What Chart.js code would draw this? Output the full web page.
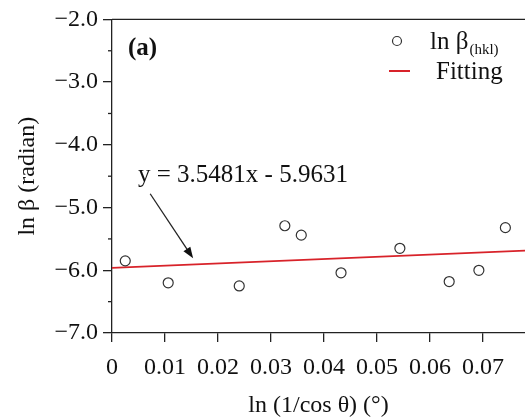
<!DOCTYPE html>
<html>
<head>
<meta charset="utf-8">
<script src="https://cdn.jsdelivr.net/npm/chart.js@4"></script>
<style>
  html, body { margin: 0; padding: 0; background: #fff; }
  #wrap { width: 525px; height: 419px; }
</style>
</head>
<body>
<div id="wrap"><canvas id="chart" width="525" height="419"></canvas></div>
<script>
// data
var xVals = [0.0025, 0.0106, 0.0240, 0.0326, 0.0357, 0.0432, 0.0543, 0.0636, 0.0692, 0.0742];
var yVals = [-5.85, -6.20, -6.25, -5.29, -5.44, -6.04, -5.65, -6.18, -6.00, -5.32];
var fitX = [0, 0.0779];
var fitY = [-5.963, -5.687];
var xTicks = [0, 0.01, 0.02, 0.03, 0.04, 0.05, 0.06, 0.07];
var yTicks = [-7.0, -6.0, -5.0, -4.0, -3.0, -2.0];
var yMinorTicks = [-6.5, -5.5, -4.5, -3.5, -2.5];
var eqText = 'y = 3.5481x - 5.9631';
var eqPos = [0.0049, -4.48];
var arrowFrom = [0.0072, -4.78];
var arrowTo = [0.0153, -5.81];

var serif = '"Liberation Serif", "Times New Roman", serif';

var points = xVals.map(function(x, i) { return { x: x, y: yVals[i] }; });
var fitPts = fitX.map(function(x, i) { return { x: x, y: fitY[i] }; });

// extra drawing: frame top, minor ticks, equation, arrow, legend, panel label
var extras = {
    id: 'extras',
    afterDraw: function(chart) {
        var ctx = chart.ctx;
        var a = chart.chartArea;
        var xs = chart.scales.x, ys = chart.scales.y;
        ctx.save();
        ctx.strokeStyle = '#222';
        ctx.lineWidth = 1.3;
        ctx.beginPath();
        ctx.moveTo(a.left, a.top);
        ctx.lineTo(a.right, a.top);
        ctx.stroke();

        // minor ticks on y
        yMinorTicks.forEach(function(v) {
            var py = ys.getPixelForValue(v);
            ctx.beginPath();
            ctx.moveTo(a.left - 4, py);
            ctx.lineTo(a.left, py);
            ctx.stroke();
        });

        // equation
        ctx.fillStyle = '#111';
        ctx.font = '25px ' + serif;
        ctx.textBaseline = 'middle';
        ctx.textAlign = 'left';
        ctx.fillText(eqText, xs.getPixelForValue(eqPos[0]), ys.getPixelForValue(eqPos[1]));

        // arrow
        var x1 = xs.getPixelForValue(arrowFrom[0]), y1 = ys.getPixelForValue(arrowFrom[1]);
        var x2 = xs.getPixelForValue(arrowTo[0]), y2 = ys.getPixelForValue(arrowTo[1]);
        var ang = Math.atan2(y2 - y1, x2 - x1);
        ctx.lineWidth = 1.3;
        ctx.beginPath();
        ctx.moveTo(x1, y1);
        ctx.lineTo(x2 - 6 * Math.cos(ang), y2 - 6 * Math.sin(ang));
        ctx.stroke();
        ctx.beginPath();
        ctx.moveTo(x2, y2);
        ctx.lineTo(x2 - 12 * Math.cos(ang - 0.35), y2 - 12 * Math.sin(ang - 0.35));
        ctx.lineTo(x2 - 12 * Math.cos(ang + 0.35), y2 - 12 * Math.sin(ang + 0.35));
        ctx.closePath();
        ctx.fill();

        // panel label
        ctx.font = 'bold 25px ' + serif;
        ctx.fillText('(a)', 128, 49);

        // legend
        ctx.strokeStyle = '#333';
        ctx.lineWidth = 1.2;
        ctx.beginPath();
        ctx.arc(397, 41, 4.5, 0, Math.PI * 2);
        ctx.stroke();
        ctx.font = '25px ' + serif;
        ctx.fillText('ln \u03b2', 430, 42);
        var w = ctx.measureText('ln \u03b2').width;
        ctx.font = '15px ' + serif;
        ctx.fillText('(hkl)', 430 + w + 1, 50);
        ctx.strokeStyle = '#d8232a';
        ctx.lineWidth = 2;
        ctx.beginPath();
        ctx.moveTo(389, 71);
        ctx.lineTo(410, 71);
        ctx.stroke();
        ctx.font = '25px ' + serif;
        ctx.fillText('Fitting', 436, 72);
        ctx.restore();
    }
};

var ctx = document.getElementById('chart').getContext('2d');
var chart = new Chart(ctx, {
    type: 'scatter',
    data: {
        datasets: [{
            label: 'ln \u03b2(hkl)',
            data: points,
            pointStyle: 'circle',
            pointRadius: 5,
            pointBorderWidth: 1.2,
            pointBorderColor: '#333',
            pointBackgroundColor: 'rgba(255,255,255,0)',
            showLine: false
        }, {
            label: 'Fitting',
            data: fitPts,
            showLine: true,
            borderColor: '#d8232a',
            borderWidth: 1.8,
            pointRadius: 0
        }]
    },
    options: {
        responsive: false,
        animation: false,
        layout: { autoPadding: false, padding: { top: 15, right: 0, left: 0, bottom: 0 } },
        plugins: { legend: { display: false }, tooltip: { enabled: false } },
        scales: {
            x: {
                type: 'linear',
                min: 0,
                max: 0.0779,
                afterBuildTicks: function(s) { s.ticks = xTicks.map(function(v) { return { value: v }; }); },
                afterFit: function(s) { s.height = 86; s.paddingLeft = 0; s.paddingRight = 0; },
                border: { display: true, color: '#222', width: 1.3 },
                grid: { drawOnChartArea: false, drawTicks: true, tickLength: 9, color: '#222', lineWidth: 1.3 },
                ticks: {
                    color: '#111',
                    padding: 11,
                    maxRotation: 0,
                    font: { family: serif, size: 24 },
                    callback: function(v) { return v === 0 ? '0' : v.toFixed(2); }
                },
                title: {
                    display: true,
                    text: 'ln (1/cos \u03b8) (\u00b0)',
                    color: '#111',
                    font: { family: serif, size: 24 },
                    padding: { top: 6, bottom: -1 }
                }
            },
            y: {
                type: 'linear',
                min: -7,
                max: -2,
                afterBuildTicks: function(s) { s.ticks = yTicks.map(function(v) { return { value: v }; }); },
                afterFit: function(s) { s.width = 112; },
                border: { display: true, color: '#222', width: 1.3 },
                grid: { drawOnChartArea: false, drawTicks: true, tickLength: 9, color: '#222', lineWidth: 1.3 },
                ticks: {
                    color: '#111',
                    padding: 5,
                    font: { family: serif, size: 24 },
                    callback: function(v) { return v.toFixed(1).replace('-', '\u2212'); }
                },
                title: {
                    display: true,
                    text: 'ln \u03b2 (radian)',
                    color: '#111',
                    font: { family: serif, size: 24 },
                    padding: { top: 13 }
                }
            }
        }
    },
    plugins: [extras]
});
</script>
</body>
</html>
